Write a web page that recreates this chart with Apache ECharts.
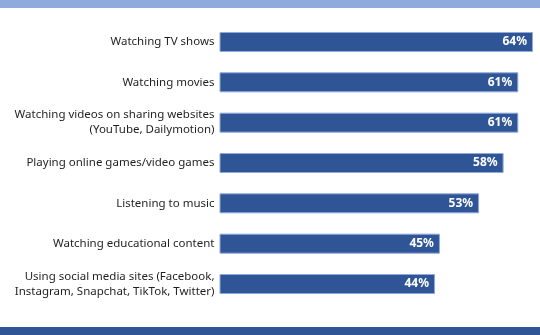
<!DOCTYPE html>
<html>
<head>
<meta charset="utf-8">
<style>html,body{margin:0;padding:0;background:#fff;}#chart{width:540px;height:335px;}</style>
<script src="https://cdn.jsdelivr.net/npm/echarts@6/dist/echarts.min.js"></script>
</head>
<body>
<div id="chart"></div>
<script>
var categories = [
  "Watching TV shows",
  "Watching movies",
  "Watching videos on sharing websites\n(YouTube, Dailymotion)",
  "Playing online games/video games",
  "Listening to music",
  "Watching educational content",
  "Using social media sites (Facebook,\nInstagram, Snapchat, TikTok, Twitter)"
];
var values = [64, 61, 61, 58, 53, 45, 44];

var chart = echarts.init(document.getElementById('chart'), null, {renderer: 'canvas'});
chart.setOption({
  animation: false,
  backgroundColor: '#ffffff',
  graphic: [
    {type: 'rect', left: 0, top: 0, shape: {width: 540, height: 8}, style: {fill: '#8FAADC'}},
    {type: 'rect', left: 0, top: 327, shape: {width: 540, height: 8}, style: {fill: '#2F5597'}}
  ],
  grid: {left: 219.5, right: 7, top: 21.8, bottom: 30.8, containLabel: false},
  xAxis: {type: 'value', min: 0, max: 64, show: false},
  yAxis: {
    type: 'category',
    inverse: true,
    data: categories,
    axisLine: {show: false},
    axisTick: {show: false},
    axisLabel: {
      margin: 5,
      color: '#1f1f1f',
      fontFamily: 'Noto Sans',
      fontSize: 11.5,
      lineHeight: 15,
      align: 'right'
    }
  },
  series: [{
    type: 'bar',
    data: values,
    barWidth: 20,
    itemStyle: {color: '#2F5597', borderColor: '#8FAADC', borderWidth: 1},
    label: {
      show: true,
      position: 'insideRight',
      offset: [-1, 0],
      formatter: '{c}%',
      color: '#ffffff',
      fontWeight: 'bold',
      fontFamily: 'Noto Sans',
      fontSize: 12
    }
  }]
});
</script>
</body>
</html>
